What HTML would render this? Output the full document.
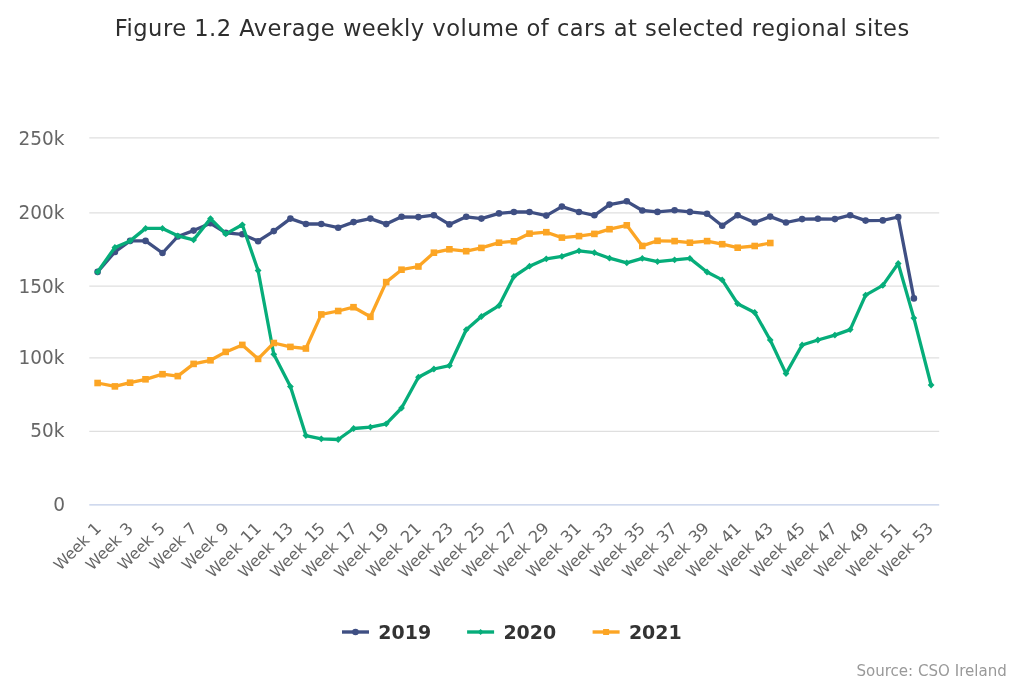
<!DOCTYPE html>
<html lang="en"><head><meta charset="utf-8"><title>Figure 1.2 Average weekly volume of cars at selected regional sites</title>
<style>html,body{margin:0;padding:0;background:#fff;overflow:hidden}svg{display:block}</style></head>
<body>
<svg width="1024" height="683" viewBox="0 0 1024 683" font-family="DejaVu Sans, Liberation Sans, sans-serif">
<rect width="1024" height="683" fill="#ffffff"/>
<path d="M89.3 137.8H939.2" stroke="#dfdfdf" stroke-width="1.3" fill="none"/>
<path d="M89.3 212.8H939.2" stroke="#dfdfdf" stroke-width="1.3" fill="none"/>
<path d="M89.3 286.2H939.2" stroke="#dfdfdf" stroke-width="1.3" fill="none"/>
<path d="M89.3 357.9H939.2" stroke="#dfdfdf" stroke-width="1.3" fill="none"/>
<path d="M89.3 431.4H939.2" stroke="#dfdfdf" stroke-width="1.3" fill="none"/>
<path d="M89.3 504.8H939.2" stroke="#c0cde8" stroke-width="1.3" fill="none"/>
<text x="64.5" y="145.4" text-anchor="end" font-size="18.60" fill="#666666" textLength="46.0" lengthAdjust="spacingAndGlyphs">250k</text>
<text x="64.5" y="218.7" text-anchor="end" font-size="18.60" fill="#666666" textLength="46.0" lengthAdjust="spacingAndGlyphs">200k</text>
<text x="64.5" y="292.5" text-anchor="end" font-size="18.60" fill="#666666" textLength="46.0" lengthAdjust="spacingAndGlyphs">150k</text>
<text x="64.5" y="363.9" text-anchor="end" font-size="18.60" fill="#666666" textLength="46.0" lengthAdjust="spacingAndGlyphs">100k</text>
<text x="64.5" y="437.4" text-anchor="end" font-size="18.60" fill="#666666" textLength="34.2" lengthAdjust="spacingAndGlyphs">50k</text>
<text x="65.0" y="510.6" text-anchor="end" font-size="18.60" fill="#666666" textLength="11.8" lengthAdjust="spacingAndGlyphs">0</text>
<text x="512.0" y="36.3" text-anchor="middle" font-size="22.60" fill="#2e2e2e" textLength="794.5" lengthAdjust="spacing">Figure 1.2 Average weekly volume of cars at selected regional sites</text>
<text transform="translate(102.2 529.3) rotate(-45)" text-anchor="end" fill="#666666"><tspan font-size="15.60">Week </tspan><tspan font-size="16.40" dx="1.3">1</tspan></text>
<text transform="translate(134.2 529.3) rotate(-45)" text-anchor="end" fill="#666666"><tspan font-size="15.60">Week </tspan><tspan font-size="16.40" dx="1.3">3</tspan></text>
<text transform="translate(166.2 529.3) rotate(-45)" text-anchor="end" fill="#666666"><tspan font-size="15.60">Week </tspan><tspan font-size="16.40" dx="1.3">5</tspan></text>
<text transform="translate(198.2 529.3) rotate(-45)" text-anchor="end" fill="#666666"><tspan font-size="15.60">Week </tspan><tspan font-size="16.40" dx="1.3">7</tspan></text>
<text transform="translate(230.2 529.3) rotate(-45)" text-anchor="end" fill="#666666"><tspan font-size="15.60">Week </tspan><tspan font-size="16.40" dx="1.3">9</tspan></text>
<text transform="translate(262.2 529.3) rotate(-45)" text-anchor="end" fill="#666666"><tspan font-size="15.60">Week </tspan><tspan font-size="16.40" dx="1.3">11</tspan></text>
<text transform="translate(294.2 529.3) rotate(-45)" text-anchor="end" fill="#666666"><tspan font-size="15.60">Week </tspan><tspan font-size="16.40" dx="1.3">13</tspan></text>
<text transform="translate(326.2 529.3) rotate(-45)" text-anchor="end" fill="#666666"><tspan font-size="15.60">Week </tspan><tspan font-size="16.40" dx="1.3">15</tspan></text>
<text transform="translate(358.2 529.3) rotate(-45)" text-anchor="end" fill="#666666"><tspan font-size="15.60">Week </tspan><tspan font-size="16.40" dx="1.3">17</tspan></text>
<text transform="translate(390.2 529.3) rotate(-45)" text-anchor="end" fill="#666666"><tspan font-size="15.60">Week </tspan><tspan font-size="16.40" dx="1.3">19</tspan></text>
<text transform="translate(422.2 529.3) rotate(-45)" text-anchor="end" fill="#666666"><tspan font-size="15.60">Week </tspan><tspan font-size="16.40" dx="1.3">21</tspan></text>
<text transform="translate(454.2 529.3) rotate(-45)" text-anchor="end" fill="#666666"><tspan font-size="15.60">Week </tspan><tspan font-size="16.40" dx="1.3">23</tspan></text>
<text transform="translate(486.2 529.3) rotate(-45)" text-anchor="end" fill="#666666"><tspan font-size="15.60">Week </tspan><tspan font-size="16.40" dx="1.3">25</tspan></text>
<text transform="translate(518.2 529.3) rotate(-45)" text-anchor="end" fill="#666666"><tspan font-size="15.60">Week </tspan><tspan font-size="16.40" dx="1.3">27</tspan></text>
<text transform="translate(550.2 529.3) rotate(-45)" text-anchor="end" fill="#666666"><tspan font-size="15.60">Week </tspan><tspan font-size="16.40" dx="1.3">29</tspan></text>
<text transform="translate(582.2 529.3) rotate(-45)" text-anchor="end" fill="#666666"><tspan font-size="15.60">Week </tspan><tspan font-size="16.40" dx="1.3">31</tspan></text>
<text transform="translate(614.2 529.3) rotate(-45)" text-anchor="end" fill="#666666"><tspan font-size="15.60">Week </tspan><tspan font-size="16.40" dx="1.3">33</tspan></text>
<text transform="translate(646.2 529.3) rotate(-45)" text-anchor="end" fill="#666666"><tspan font-size="15.60">Week </tspan><tspan font-size="16.40" dx="1.3">35</tspan></text>
<text transform="translate(678.2 529.3) rotate(-45)" text-anchor="end" fill="#666666"><tspan font-size="15.60">Week </tspan><tspan font-size="16.40" dx="1.3">37</tspan></text>
<text transform="translate(710.2 529.3) rotate(-45)" text-anchor="end" fill="#666666"><tspan font-size="15.60">Week </tspan><tspan font-size="16.40" dx="1.3">39</tspan></text>
<text transform="translate(742.2 529.3) rotate(-45)" text-anchor="end" fill="#666666"><tspan font-size="15.60">Week </tspan><tspan font-size="16.40" dx="1.3">41</tspan></text>
<text transform="translate(774.2 529.3) rotate(-45)" text-anchor="end" fill="#666666"><tspan font-size="15.60">Week </tspan><tspan font-size="16.40" dx="1.3">43</tspan></text>
<text transform="translate(806.2 529.3) rotate(-45)" text-anchor="end" fill="#666666"><tspan font-size="15.60">Week </tspan><tspan font-size="16.40" dx="1.3">45</tspan></text>
<text transform="translate(838.2 529.3) rotate(-45)" text-anchor="end" fill="#666666"><tspan font-size="15.60">Week </tspan><tspan font-size="16.40" dx="1.3">47</tspan></text>
<text transform="translate(870.2 529.3) rotate(-45)" text-anchor="end" fill="#666666"><tspan font-size="15.60">Week </tspan><tspan font-size="16.40" dx="1.3">49</tspan></text>
<text transform="translate(902.2 529.3) rotate(-45)" text-anchor="end" fill="#666666"><tspan font-size="15.60">Week </tspan><tspan font-size="16.40" dx="1.3">51</tspan></text>
<text transform="translate(934.2 529.3) rotate(-45)" text-anchor="end" fill="#666666"><tspan font-size="15.60">Week </tspan><tspan font-size="16.40" dx="1.3">53</tspan></text>
<path d="M97.6 271.9 L114.9 251.9 L130.1 240.9 L145.6 240.9 L162.5 253.0 L177.8 236.5 L193.6 230.6 L210.5 223.3 L225.8 232.8 L242.3 234.3 L258.1 241.2 L273.8 231.1 L290.4 218.6 L305.9 224.0 L321.3 224.0 L338.2 227.7 L353.6 222.1 L370.4 218.6 L386.2 224.1 L401.6 216.8 L418.4 217.1 L433.9 215.2 L449.4 224.4 L466.2 216.8 L481.4 218.6 L499.0 213.4 L513.9 212.0 L529.5 212.0 L546.3 215.6 L561.9 206.6 L579.0 212.0 L594.4 215.3 L609.5 204.6 L626.8 201.3 L642.3 210.5 L657.5 211.9 L674.6 210.3 L689.9 211.9 L707.0 213.7 L722.2 225.7 L737.6 215.2 L754.7 222.5 L770.2 216.6 L786.0 222.5 L802.1 219.1 L817.9 218.8 L834.9 219.1 L850.2 215.2 L865.6 220.6 L882.8 220.4 L898.2 217.0 L913.9 298.4" stroke="#3F4F83" stroke-width="3.3" fill="none" stroke-linejoin="round" stroke-linecap="round"/>
<circle cx="97.6" cy="271.9" r="3.3" fill="#3F4F83"/>
<circle cx="114.9" cy="251.9" r="3.3" fill="#3F4F83"/>
<circle cx="130.1" cy="240.9" r="3.3" fill="#3F4F83"/>
<circle cx="145.6" cy="240.9" r="3.3" fill="#3F4F83"/>
<circle cx="162.5" cy="253.0" r="3.3" fill="#3F4F83"/>
<circle cx="177.8" cy="236.5" r="3.3" fill="#3F4F83"/>
<circle cx="193.6" cy="230.6" r="3.3" fill="#3F4F83"/>
<circle cx="210.5" cy="223.3" r="3.3" fill="#3F4F83"/>
<circle cx="225.8" cy="232.8" r="3.3" fill="#3F4F83"/>
<circle cx="242.3" cy="234.3" r="3.3" fill="#3F4F83"/>
<circle cx="258.1" cy="241.2" r="3.3" fill="#3F4F83"/>
<circle cx="273.8" cy="231.1" r="3.3" fill="#3F4F83"/>
<circle cx="290.4" cy="218.6" r="3.3" fill="#3F4F83"/>
<circle cx="305.9" cy="224.0" r="3.3" fill="#3F4F83"/>
<circle cx="321.3" cy="224.0" r="3.3" fill="#3F4F83"/>
<circle cx="338.2" cy="227.7" r="3.3" fill="#3F4F83"/>
<circle cx="353.6" cy="222.1" r="3.3" fill="#3F4F83"/>
<circle cx="370.4" cy="218.6" r="3.3" fill="#3F4F83"/>
<circle cx="386.2" cy="224.1" r="3.3" fill="#3F4F83"/>
<circle cx="401.6" cy="216.8" r="3.3" fill="#3F4F83"/>
<circle cx="418.4" cy="217.1" r="3.3" fill="#3F4F83"/>
<circle cx="433.9" cy="215.2" r="3.3" fill="#3F4F83"/>
<circle cx="449.4" cy="224.4" r="3.3" fill="#3F4F83"/>
<circle cx="466.2" cy="216.8" r="3.3" fill="#3F4F83"/>
<circle cx="481.4" cy="218.6" r="3.3" fill="#3F4F83"/>
<circle cx="499.0" cy="213.4" r="3.3" fill="#3F4F83"/>
<circle cx="513.9" cy="212.0" r="3.3" fill="#3F4F83"/>
<circle cx="529.5" cy="212.0" r="3.3" fill="#3F4F83"/>
<circle cx="546.3" cy="215.6" r="3.3" fill="#3F4F83"/>
<circle cx="561.9" cy="206.6" r="3.3" fill="#3F4F83"/>
<circle cx="579.0" cy="212.0" r="3.3" fill="#3F4F83"/>
<circle cx="594.4" cy="215.3" r="3.3" fill="#3F4F83"/>
<circle cx="609.5" cy="204.6" r="3.3" fill="#3F4F83"/>
<circle cx="626.8" cy="201.3" r="3.3" fill="#3F4F83"/>
<circle cx="642.3" cy="210.5" r="3.3" fill="#3F4F83"/>
<circle cx="657.5" cy="211.9" r="3.3" fill="#3F4F83"/>
<circle cx="674.6" cy="210.3" r="3.3" fill="#3F4F83"/>
<circle cx="689.9" cy="211.9" r="3.3" fill="#3F4F83"/>
<circle cx="707.0" cy="213.7" r="3.3" fill="#3F4F83"/>
<circle cx="722.2" cy="225.7" r="3.3" fill="#3F4F83"/>
<circle cx="737.6" cy="215.2" r="3.3" fill="#3F4F83"/>
<circle cx="754.7" cy="222.5" r="3.3" fill="#3F4F83"/>
<circle cx="770.2" cy="216.6" r="3.3" fill="#3F4F83"/>
<circle cx="786.0" cy="222.5" r="3.3" fill="#3F4F83"/>
<circle cx="802.1" cy="219.1" r="3.3" fill="#3F4F83"/>
<circle cx="817.9" cy="218.8" r="3.3" fill="#3F4F83"/>
<circle cx="834.9" cy="219.1" r="3.3" fill="#3F4F83"/>
<circle cx="850.2" cy="215.2" r="3.3" fill="#3F4F83"/>
<circle cx="865.6" cy="220.6" r="3.3" fill="#3F4F83"/>
<circle cx="882.8" cy="220.4" r="3.3" fill="#3F4F83"/>
<circle cx="898.2" cy="217.0" r="3.3" fill="#3F4F83"/>
<circle cx="913.9" cy="298.4" r="3.3" fill="#3F4F83"/>
<path d="M97.6 271.9 L114.9 247.5 L130.1 240.9 L145.6 228.4 L162.5 228.4 L177.8 235.8 L193.6 239.9 L210.5 218.6 L225.8 233.9 L242.3 224.8 L258.1 270.5 L273.8 354.3 L290.4 386.6 L305.9 435.6 L321.3 438.8 L338.2 439.5 L353.6 428.5 L370.4 427.1 L386.2 423.8 L401.6 408.0 L418.4 377.2 L433.9 369.0 L449.4 365.7 L466.2 329.7 L481.4 316.5 L499.0 305.7 L513.9 276.5 L529.5 266.2 L546.3 258.8 L561.9 256.4 L579.0 250.8 L594.4 252.7 L609.5 258.2 L626.8 262.8 L642.3 258.4 L657.5 261.6 L674.6 259.8 L689.9 258.4 L707.0 272.0 L722.2 279.9 L737.6 303.7 L754.7 312.5 L770.2 340.0 L786.0 373.6 L802.1 345.0 L817.9 340.0 L834.9 335.1 L850.2 329.6 L865.6 295.1 L882.8 285.4 L898.2 263.5 L913.9 318.1 L931.1 385.0" stroke="#06AD7A" stroke-width="3.3" fill="none" stroke-linejoin="round" stroke-linecap="round"/>
<path d="M97.6 268.5L101.0 271.9L97.6 275.3L94.2 271.9Z" fill="#06AD7A"/>
<path d="M114.9 244.1L118.3 247.5L114.9 250.9L111.5 247.5Z" fill="#06AD7A"/>
<path d="M130.1 237.5L133.5 240.9L130.1 244.3L126.7 240.9Z" fill="#06AD7A"/>
<path d="M145.6 225.0L149.0 228.4L145.6 231.8L142.2 228.4Z" fill="#06AD7A"/>
<path d="M162.5 225.0L165.9 228.4L162.5 231.8L159.1 228.4Z" fill="#06AD7A"/>
<path d="M177.8 232.4L181.2 235.8L177.8 239.2L174.4 235.8Z" fill="#06AD7A"/>
<path d="M193.6 236.5L197.0 239.9L193.6 243.3L190.2 239.9Z" fill="#06AD7A"/>
<path d="M210.5 215.2L213.9 218.6L210.5 222.0L207.1 218.6Z" fill="#06AD7A"/>
<path d="M225.8 230.5L229.2 233.9L225.8 237.3L222.3 233.9Z" fill="#06AD7A"/>
<path d="M242.3 221.4L245.8 224.8L242.3 228.2L238.9 224.8Z" fill="#06AD7A"/>
<path d="M258.1 267.1L261.5 270.5L258.1 273.9L254.7 270.5Z" fill="#06AD7A"/>
<path d="M273.8 350.9L277.2 354.3L273.8 357.7L270.4 354.3Z" fill="#06AD7A"/>
<path d="M290.4 383.2L293.8 386.6L290.4 390.0L287.0 386.6Z" fill="#06AD7A"/>
<path d="M305.9 432.2L309.2 435.6L305.9 439.0L302.5 435.6Z" fill="#06AD7A"/>
<path d="M321.3 435.4L324.7 438.8L321.3 442.2L317.9 438.8Z" fill="#06AD7A"/>
<path d="M338.2 436.1L341.6 439.5L338.2 442.9L334.9 439.5Z" fill="#06AD7A"/>
<path d="M353.6 425.1L356.9 428.5L353.6 431.9L350.2 428.5Z" fill="#06AD7A"/>
<path d="M370.4 423.7L373.8 427.1L370.4 430.5L367.1 427.1Z" fill="#06AD7A"/>
<path d="M386.2 420.4L389.6 423.8L386.2 427.2L382.8 423.8Z" fill="#06AD7A"/>
<path d="M401.6 404.6L404.9 408.0L401.6 411.4L398.2 408.0Z" fill="#06AD7A"/>
<path d="M418.4 373.8L421.8 377.2L418.4 380.6L415.1 377.2Z" fill="#06AD7A"/>
<path d="M433.9 365.6L437.3 369.0L433.9 372.4L430.5 369.0Z" fill="#06AD7A"/>
<path d="M449.4 362.3L452.8 365.7L449.4 369.1L446.0 365.7Z" fill="#06AD7A"/>
<path d="M466.2 326.3L469.6 329.7L466.2 333.1L462.9 329.7Z" fill="#06AD7A"/>
<path d="M481.4 313.1L484.8 316.5L481.4 319.9L478.0 316.5Z" fill="#06AD7A"/>
<path d="M499.0 302.3L502.4 305.7L499.0 309.1L495.6 305.7Z" fill="#06AD7A"/>
<path d="M513.9 273.1L517.2 276.5L513.9 279.9L510.5 276.5Z" fill="#06AD7A"/>
<path d="M529.5 262.8L532.9 266.2L529.5 269.6L526.1 266.2Z" fill="#06AD7A"/>
<path d="M546.3 255.4L549.7 258.8L546.3 262.2L542.9 258.8Z" fill="#06AD7A"/>
<path d="M561.9 253.0L565.3 256.4L561.9 259.8L558.5 256.4Z" fill="#06AD7A"/>
<path d="M579.0 247.4L582.4 250.8L579.0 254.2L575.6 250.8Z" fill="#06AD7A"/>
<path d="M594.4 249.3L597.8 252.7L594.4 256.1L591.0 252.7Z" fill="#06AD7A"/>
<path d="M609.5 254.8L612.9 258.2L609.5 261.6L606.1 258.2Z" fill="#06AD7A"/>
<path d="M626.8 259.4L630.2 262.8L626.8 266.2L623.4 262.8Z" fill="#06AD7A"/>
<path d="M642.3 255.0L645.7 258.4L642.3 261.8L638.9 258.4Z" fill="#06AD7A"/>
<path d="M657.5 258.2L660.9 261.6L657.5 265.0L654.1 261.6Z" fill="#06AD7A"/>
<path d="M674.6 256.4L678.0 259.8L674.6 263.2L671.2 259.8Z" fill="#06AD7A"/>
<path d="M689.9 255.0L693.3 258.4L689.9 261.8L686.5 258.4Z" fill="#06AD7A"/>
<path d="M707.0 268.6L710.4 272.0L707.0 275.4L703.6 272.0Z" fill="#06AD7A"/>
<path d="M722.2 276.5L725.6 279.9L722.2 283.3L718.8 279.9Z" fill="#06AD7A"/>
<path d="M737.6 300.3L741.0 303.7L737.6 307.1L734.2 303.7Z" fill="#06AD7A"/>
<path d="M754.7 309.1L758.1 312.5L754.7 315.9L751.3 312.5Z" fill="#06AD7A"/>
<path d="M770.2 336.6L773.6 340.0L770.2 343.4L766.9 340.0Z" fill="#06AD7A"/>
<path d="M786.0 370.2L789.4 373.6L786.0 377.0L782.6 373.6Z" fill="#06AD7A"/>
<path d="M802.1 341.6L805.5 345.0L802.1 348.4L798.8 345.0Z" fill="#06AD7A"/>
<path d="M817.9 336.6L821.2 340.0L817.9 343.4L814.5 340.0Z" fill="#06AD7A"/>
<path d="M834.9 331.7L838.3 335.1L834.9 338.5L831.5 335.1Z" fill="#06AD7A"/>
<path d="M850.2 326.2L853.6 329.6L850.2 333.0L846.9 329.6Z" fill="#06AD7A"/>
<path d="M865.6 291.7L869.0 295.1L865.6 298.5L862.2 295.1Z" fill="#06AD7A"/>
<path d="M882.8 282.0L886.2 285.4L882.8 288.8L879.4 285.4Z" fill="#06AD7A"/>
<path d="M898.2 260.1L901.6 263.5L898.2 266.9L894.9 263.5Z" fill="#06AD7A"/>
<path d="M913.9 314.7L917.2 318.1L913.9 321.5L910.5 318.1Z" fill="#06AD7A"/>
<path d="M931.1 381.6L934.5 385.0L931.1 388.4L927.7 385.0Z" fill="#06AD7A"/>
<path d="M97.6 383.0 L114.9 386.4 L130.1 382.7 L145.6 379.3 L162.5 374.2 L177.8 376.1 L193.6 363.9 L210.5 360.3 L225.8 351.9 L242.3 344.9 L258.1 358.9 L273.8 343.0 L290.4 346.9 L305.9 348.5 L321.3 314.4 L338.2 311.0 L353.6 307.2 L370.4 316.8 L386.2 282.1 L401.6 269.7 L418.4 266.5 L433.9 252.7 L449.4 249.3 L466.2 251.2 L481.4 247.9 L499.0 242.7 L513.9 241.3 L529.5 233.6 L546.3 232.2 L561.9 237.6 L579.0 236.1 L594.4 233.9 L609.5 229.2 L626.8 225.3 L642.3 245.9 L657.5 240.8 L674.6 241.1 L689.9 242.7 L707.0 241.1 L722.2 244.2 L737.6 247.7 L754.7 246.0 L770.2 243.0" stroke="#FCA524" stroke-width="3.3" fill="none" stroke-linejoin="round" stroke-linecap="round"/>
<rect x="94.3" y="379.7" width="6.6" height="6.6" fill="#FCA524"/>
<rect x="111.6" y="383.1" width="6.6" height="6.6" fill="#FCA524"/>
<rect x="126.8" y="379.4" width="6.6" height="6.6" fill="#FCA524"/>
<rect x="142.2" y="376.0" width="6.6" height="6.6" fill="#FCA524"/>
<rect x="159.2" y="370.9" width="6.6" height="6.6" fill="#FCA524"/>
<rect x="174.5" y="372.8" width="6.6" height="6.6" fill="#FCA524"/>
<rect x="190.3" y="360.6" width="6.6" height="6.6" fill="#FCA524"/>
<rect x="207.2" y="357.0" width="6.6" height="6.6" fill="#FCA524"/>
<rect x="222.4" y="348.6" width="6.6" height="6.6" fill="#FCA524"/>
<rect x="239.0" y="341.6" width="6.6" height="6.6" fill="#FCA524"/>
<rect x="254.8" y="355.6" width="6.6" height="6.6" fill="#FCA524"/>
<rect x="270.5" y="339.7" width="6.6" height="6.6" fill="#FCA524"/>
<rect x="287.1" y="343.6" width="6.6" height="6.6" fill="#FCA524"/>
<rect x="302.6" y="345.2" width="6.6" height="6.6" fill="#FCA524"/>
<rect x="318.0" y="311.1" width="6.6" height="6.6" fill="#FCA524"/>
<rect x="334.9" y="307.7" width="6.6" height="6.6" fill="#FCA524"/>
<rect x="350.2" y="303.9" width="6.6" height="6.6" fill="#FCA524"/>
<rect x="367.1" y="313.5" width="6.6" height="6.6" fill="#FCA524"/>
<rect x="382.9" y="278.8" width="6.6" height="6.6" fill="#FCA524"/>
<rect x="398.2" y="266.4" width="6.6" height="6.6" fill="#FCA524"/>
<rect x="415.1" y="263.2" width="6.6" height="6.6" fill="#FCA524"/>
<rect x="430.6" y="249.4" width="6.6" height="6.6" fill="#FCA524"/>
<rect x="446.1" y="246.0" width="6.6" height="6.6" fill="#FCA524"/>
<rect x="462.9" y="247.9" width="6.6" height="6.6" fill="#FCA524"/>
<rect x="478.1" y="244.6" width="6.6" height="6.6" fill="#FCA524"/>
<rect x="495.7" y="239.4" width="6.6" height="6.6" fill="#FCA524"/>
<rect x="510.6" y="238.0" width="6.6" height="6.6" fill="#FCA524"/>
<rect x="526.2" y="230.3" width="6.6" height="6.6" fill="#FCA524"/>
<rect x="543.0" y="228.9" width="6.6" height="6.6" fill="#FCA524"/>
<rect x="558.6" y="234.3" width="6.6" height="6.6" fill="#FCA524"/>
<rect x="575.7" y="232.8" width="6.6" height="6.6" fill="#FCA524"/>
<rect x="591.1" y="230.6" width="6.6" height="6.6" fill="#FCA524"/>
<rect x="606.2" y="225.9" width="6.6" height="6.6" fill="#FCA524"/>
<rect x="623.5" y="222.0" width="6.6" height="6.6" fill="#FCA524"/>
<rect x="639.0" y="242.6" width="6.6" height="6.6" fill="#FCA524"/>
<rect x="654.2" y="237.5" width="6.6" height="6.6" fill="#FCA524"/>
<rect x="671.3" y="237.8" width="6.6" height="6.6" fill="#FCA524"/>
<rect x="686.6" y="239.4" width="6.6" height="6.6" fill="#FCA524"/>
<rect x="703.8" y="237.8" width="6.6" height="6.6" fill="#FCA524"/>
<rect x="718.9" y="240.9" width="6.6" height="6.6" fill="#FCA524"/>
<rect x="734.4" y="244.4" width="6.6" height="6.6" fill="#FCA524"/>
<rect x="751.4" y="242.7" width="6.6" height="6.6" fill="#FCA524"/>
<rect x="767.0" y="239.7" width="6.6" height="6.6" fill="#FCA524"/>
<path d="M342.0 632H369.0" stroke="#3F4F83" stroke-width="3.4" fill="none"/>
<circle cx="355.5" cy="632" r="3.3" fill="#3F4F83"/>
<text x="378.3" y="638.6" font-size="18.60" font-weight="bold" fill="#333333" textLength="52.8" lengthAdjust="spacingAndGlyphs">2019</text>
<path d="M467.1 632H494.1" stroke="#06AD7A" stroke-width="3.4" fill="none"/>
<path d="M480.6 629L483.6 632L480.6 635L477.6 632Z" fill="#06AD7A"/>
<text x="503.4" y="638.6" font-size="18.60" font-weight="bold" fill="#333333" textLength="52.8" lengthAdjust="spacingAndGlyphs">2020</text>
<path d="M592.6 632H619.6" stroke="#FCA524" stroke-width="3.4" fill="none"/>
<rect x="603.1" y="629" width="6" height="6" fill="#FCA524"/>
<text x="628.9" y="638.6" font-size="18.60" font-weight="bold" fill="#333333" textLength="52.8" lengthAdjust="spacingAndGlyphs">2021</text>
<text x="1006.8" y="675.5" text-anchor="end" font-size="15.00" fill="#999999" textLength="150.4" lengthAdjust="spacingAndGlyphs">Source: CSO Ireland</text>
</svg>
</body></html>
